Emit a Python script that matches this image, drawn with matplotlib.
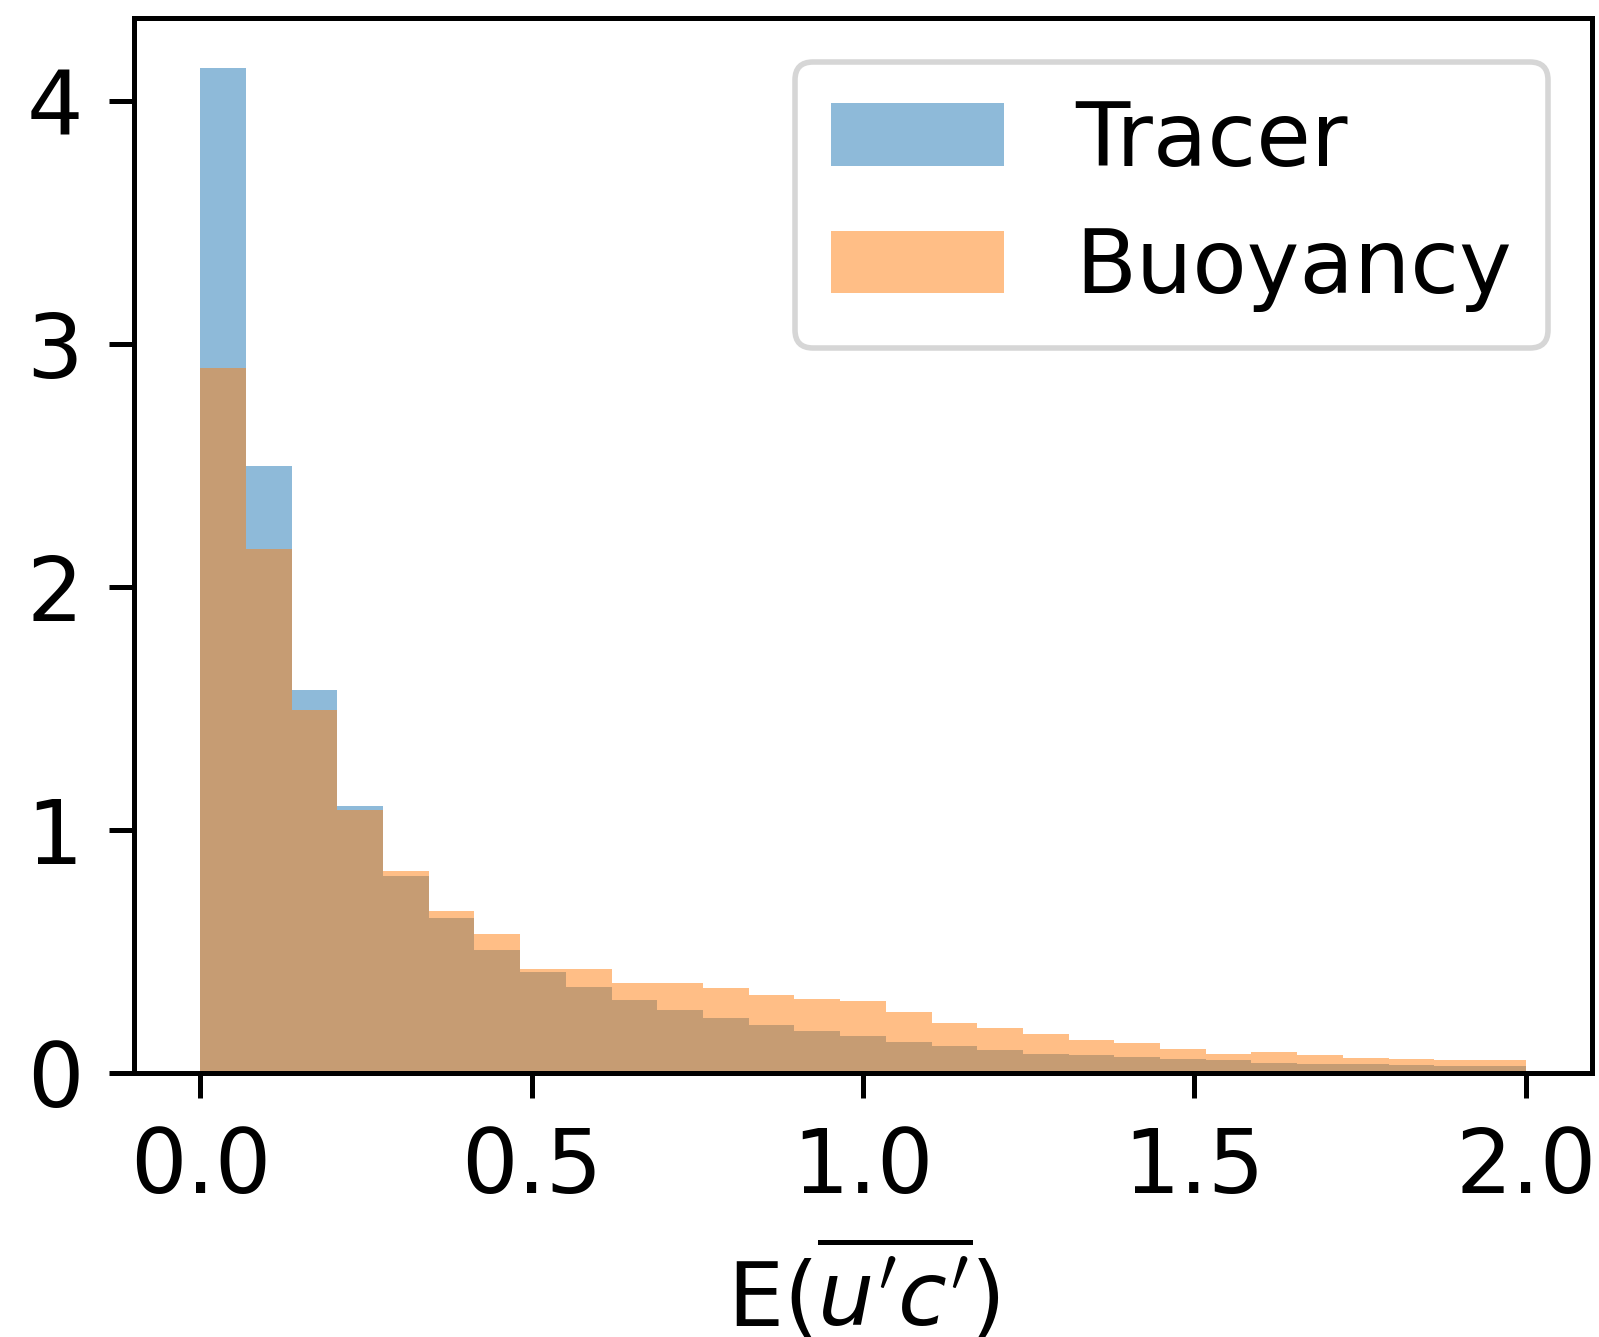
import matplotlib
matplotlib.use('Agg')
import matplotlib.pyplot as plt
import numpy as np

# %% data (bin heights, density)

bin_range = (0.0, 2.0)
tracer = [4.135, 2.499, 1.575, 1.101, 0.812, 0.639, 0.507, 0.416, 0.355,
          0.301, 0.260, 0.227, 0.198, 0.173, 0.153, 0.128, 0.111, 0.095,
          0.082, 0.074, 0.066, 0.058, 0.054, 0.045, 0.037, 0.037, 0.033,
          0.029, 0.029]
buoyancy = [2.902, 2.158, 1.493, 1.085, 0.833, 0.668, 0.573, 0.429, 0.429,
            0.371, 0.371, 0.351, 0.322, 0.305, 0.297, 0.252, 0.206, 0.186,
            0.161, 0.136, 0.124, 0.099, 0.082, 0.087, 0.074, 0.062, 0.058,
            0.054, 0.054]
labels = ['Tracer', 'Buoyancy']

edges = np.linspace(bin_range[0], bin_range[1], len(tracer) + 1)
centers = 0.5 * (edges[:-1] + edges[1:])

# %% plot

fs = 64
fig = plt.figure(figsize=(15.99, 13.37), dpi=100)
ax = fig.add_axes([0.0838, 0.1971, 0.9956 - 0.0838, 0.9869 - 0.1971])

ax.hist(centers, bins=edges, weights=tracer, alpha=0.5, label=labels[0])
ax.hist(centers, bins=edges, weights=buoyancy, alpha=0.5, label=labels[1])

for s in ax.spines.values():
    s.set_linewidth(3.6)

ax.tick_params(labelsize=fs, length=18, width=3.6)
ax.tick_params(axis='x', pad=19.4)
ax.tick_params(axis='y', pad=18.6)
ax.set_xticks([0.0, 0.5, 1.0, 1.5, 2.0])
ax.set_yticks([0, 1, 2, 3, 4])
# label is partly cut at the bottom edge, as in the original figure
ax.set_xlabel(r"E$(\overline{u'c'})$", fontsize=fs, labelpad=19)

leg = ax.legend(fontsize=fs, loc='upper right', labelspacing=0.46,
                handlelength=1.95)
leg.get_frame().set_linewidth(4)

fig.savefig('out.png', dpi=100)
